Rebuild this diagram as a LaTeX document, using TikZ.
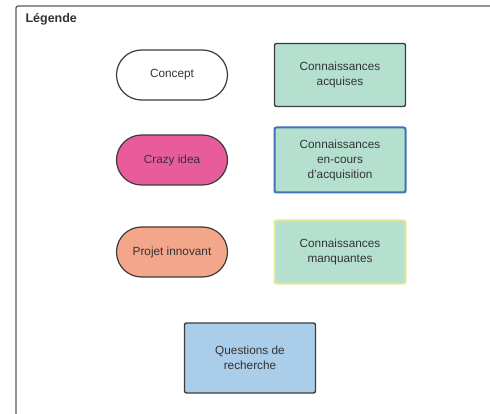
\documentclass[tikz,border=0pt]{standalone}
\usepackage{fontspec}
\setmainfont{Liberation Sans}
\usepackage{xcolor}
\definecolor{framegray}{HTML}{5A5A5A}
\definecolor{lineGray}{HTML}{3C3C3C}
\definecolor{txtgray}{HTML}{333333}
\definecolor{mint}{HTML}{B5E0CF}
\definecolor{knowblue}{HTML}{3D72B8}
\definecolor{knowyellow}{HTML}{E2EA9A}
\definecolor{crazypink}{HTML}{E85C9C}
\definecolor{projsalmon}{HTML}{F4A68B}
\definecolor{questblue}{HTML}{AACDEA}
\newcommand{\boxw}{131pt}
\newcommand{\boxh}{63pt}
\newcommand{\pillw}{111pt}
\newcommand{\pillh}{50pt}
\newcommand{\pillx}{172}
\newcommand{\boxx}{340}

\begin{document}
\begin{tikzpicture}[x=1pt,y=-1pt,
    font=\fontsize{11.8}{15}\selectfont,
    pill/.style={draw=lineGray, line width=1.2pt, rounded corners=25pt,
      minimum width=\pillw, minimum height=\pillh, text=txtgray},
    knowbox/.style={draw=lineGray, line width=1.4pt, rounded corners=2pt,
      minimum width=\boxw, minimum height=\boxh, align=center,
      text=txtgray, fill=mint}]
  \useasboundingbox (0,0) rectangle (490,414);
  % legend frame
  \draw[framegray, line width=1.2pt, rounded corners=2pt] (16,430) |- (500,6);
  \node[anchor=base west, font=\fontsize{12.5}{14}\selectfont\bfseries, text=txtgray]
    (title) at (22,23) {Légende};
  % left column
  \node[pill, fill=white] (concept) at (\pillx,75) {Concept};
  \node[pill, fill=crazypink] (crazy) at (\pillx,160) {Crazy idea};
  \node[pill, fill=projsalmon] (projet) at (\pillx,252) {Projet innovant};
  % right column
  \node[knowbox] (acquises) at (\boxx,75) {Connaissances\\acquises};
  \node[knowbox, draw=knowblue, line width=2pt, minimum height=65pt] (encours)
    at (\boxx,160) {Connaissances\\en-cours\\d'acquisition};
  \node[knowbox, draw=knowyellow, line width=2pt] (manquantes) at (\boxx,252)
    {Connaissances\\manquantes};
  % bottom
  \node[knowbox, fill=questblue, minimum height=70pt] (questions) at (250,358)
    {Questions de\\recherche};
\end{tikzpicture}
\end{document}
